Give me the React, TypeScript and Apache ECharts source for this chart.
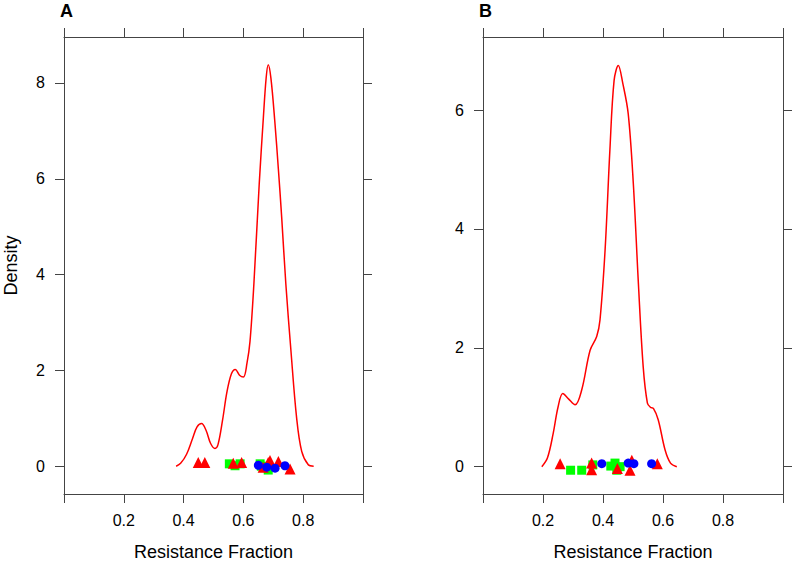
import React, { useEffect, useRef } from "react";
import * as echarts from "echarts";

// Kernel density curves (Resistance Fraction, Density)
const densityA: [number, number][] = [
  [0.375, 0], [0.39, 0.06], [0.41, 0.25], [0.43, 0.58], [0.445, 0.82], [0.46, 0.89],
  [0.475, 0.75], [0.49, 0.48], [0.505, 0.37], [0.515, 0.45], [0.53, 0.95], [0.545, 1.55],
  [0.56, 1.93], [0.573, 2.02], [0.587, 1.9], [0.6, 1.86], [0.612, 2.15], [0.622, 2.6],
  [0.635, 3.8], [0.653, 5.9], [0.667, 7.3], [0.676, 8.1], [0.683, 8.38], [0.692, 8.1],
  [0.705, 7.2], [0.717, 6.2], [0.728, 5.2], [0.742, 3.8], [0.759, 2.41], [0.778, 1.01],
  [0.795, 0.31], [0.817, 0.03], [0.835, 0],
];
const densityB: [number, number][] = [
  [0.196, 0], [0.215, 0.15], [0.234, 0.56], [0.25, 1.0], [0.266, 1.23], [0.285, 1.14],
  [0.307, 1.04], [0.329, 1.29], [0.357, 1.96], [0.379, 2.19], [0.39, 2.47], [0.407, 3.65],
  [0.423, 5.33], [0.437, 6.5], [0.451, 6.75], [0.466, 6.45], [0.484, 5.94], [0.501, 4.77],
  [0.518, 3.08], [0.534, 1.68], [0.548, 1.07], [0.558, 1.0], [0.568, 0.98], [0.584, 0.79],
  [0.607, 0.28], [0.625, 0.06], [0.646, 0],
];

// Jittered observations
const redA: [number, number][] = [
  [0.449, 0.08], [0.471, 0.08], [0.566, 0.06], [0.594, 0.08], [0.666, -0.02],
  [0.683, 0.08], [0.689, 0.12], [0.717, 0.1], [0.756, -0.06],
];
const greenA: [number, number][] = [
  [0.553, 0.05], [0.572, 0.01], [0.589, 0.05], [0.656, 0.05], [0.66, 0.0],
  [0.672, -0.01], [0.683, -0.08],
];
const blueA: [number, number][] = [
  [0.65, 0.02], [0.678, -0.02], [0.706, -0.04], [0.739, 0.01],
];
const redB: [number, number][] = [
  [0.257, 0.05], [0.362, 0.06], [0.362, -0.05], [0.448, -0.03], [0.496, 0.11],
  [0.49, -0.06], [0.581, 0.05],
];
const greenB: [number, number][] = [
  [0.292, -0.06], [0.329, -0.06], [0.366, 0.03], [0.426, 0.01], [0.44, 0.06],
  [0.446, -0.06], [0.457, 0.0],
];
const blueB: [number, number][] = [
  [0.396, 0.05], [0.484, 0.06], [0.503, 0.05], [0.562, 0.05],
];

const xTicks = [0, 0.2, 0.4, 0.6, 0.8, 1.0];
const xLabels = [0.2, 0.4, 0.6, 0.8];
const yTicksA = [0, 2, 4, 6, 8];
const yTicksB = [0, 2, 4, 6];
const panelTitles = ["A", "B"];
const xName = "Resistance Fraction";
const yName = "Density";

export default function App() {
  const ref = useRef<HTMLDivElement>(null);
  useEffect(() => {
    if (!ref.current) return;
    const chart = echarts.init(ref.current, null, { renderer: "svg" });
    const font = "Liberation Sans, Arial, Helvetica, sans-serif";
    const axisColor = "#444";
    const lineStyle = { color: axisColor, width: 1 };

    const mkX = (grid: number, pos: "bottom" | "top") => ({
      type: "value",
      gridIndex: grid,
      position: pos,
      min: 0,
      max: 1,
      splitLine: { show: false },
      axisLine: { show: true, onZero: false, lineStyle },
      axisTick: { show: true, inside: false, length: 9, lineStyle, customValues: xTicks },
      axisLabel: {
        show: pos === "bottom",
        customValues: xLabels,
        margin: 18,
        fontSize: 16,
        color: "#000",
        fontFamily: font,
      },
      name: pos === "bottom" ? xName : "",
      nameLocation: "middle",
      nameGap: 49,
      nameTextStyle: { fontSize: 18, color: "#000", fontFamily: font },
    });

    const mkY = (grid: number, pos: "left" | "right", min: number, max: number, ticks: number[]) => ({
      type: "value",
      gridIndex: grid,
      position: pos,
      min,
      max,
      splitLine: { show: false },
      axisLine: { show: true, onZero: false, lineStyle },
      axisTick: { show: true, inside: false, length: 9, lineStyle, customValues: ticks },
      axisLabel: {
        show: pos === "left",
        customValues: ticks,
        margin: 19,
        fontSize: 16,
        color: "#000",
        fontFamily: font,
      },
      name: pos === "left" && grid === 0 ? yName : "",
      nameLocation: "middle",
      nameGap: 44,
      nameTextStyle: { fontSize: 18, color: "#000", fontFamily: font },
    });

    const line = (data: [number, number][], i: number) => ({
      type: "line",
      xAxisIndex: i * 2,
      yAxisIndex: i * 2,
      data,
      smooth: 0.35,
      showSymbol: false,
      symbol: "none",
      lineStyle: { color: "#FF0000", width: 1.5 },
      z: 2,
    });
    const pts = (data: [number, number][], i: number, color: string, symbol: string, size: number) => ({
      type: "scatter",
      xAxisIndex: i * 2,
      yAxisIndex: i * 2,
      data,
      symbol,
      symbolSize: size,
      itemStyle: { color, opacity: 1 },
      z: 3,
    });

    chart.setOption({
      animation: false,
      backgroundColor: "#fff",
      title: [
        { text: panelTitles[0], left: 60, top: 2, padding: 0, textStyle: { fontSize: 18, fontWeight: "bold", color: "#000", fontFamily: font } },
        { text: panelTitles[1], left: 479, top: 2, padding: 0, textStyle: { fontSize: 18, fontWeight: "bold", color: "#000", fontFamily: font } },
      ],
      grid: [
        { left: 64, top: 37, width: 299, height: 457, containLabel: false, outerBoundsMode: "none" },
        { left: 483, top: 37, width: 300, height: 457, containLabel: false, outerBoundsMode: "none" },
      ],
      xAxis: [mkX(0, "bottom"), mkX(0, "top"), mkX(1, "bottom"), mkX(1, "top")],
      yAxis: [
        mkY(0, "left", -0.58, 8.96, yTicksA),
        mkY(0, "right", -0.58, 8.96, yTicksA),
        mkY(1, "left", -0.46, 7.23, yTicksB),
        mkY(1, "right", -0.46, 7.23, yTicksB),
      ],
      series: [
        line(densityA, 0),
        pts(greenA, 0, "#00FF00", "rect", 9),
        pts(redA, 0, "#FF0000", "triangle", 11),
        pts(blueA, 0, "#0000FF", "circle", 9),
        line(densityB, 1),
        pts(greenB, 1, "#00FF00", "rect", 9),
        pts(redB, 1, "#FF0000", "triangle", 11),
        pts(blueB, 1, "#0000FF", "circle", 9),
      ],
    });
    return () => chart.dispose();
  }, []);
  return <div ref={ref} style={{ width: 795, height: 561, position: "absolute", left: 0, top: 0 }} />;
}
